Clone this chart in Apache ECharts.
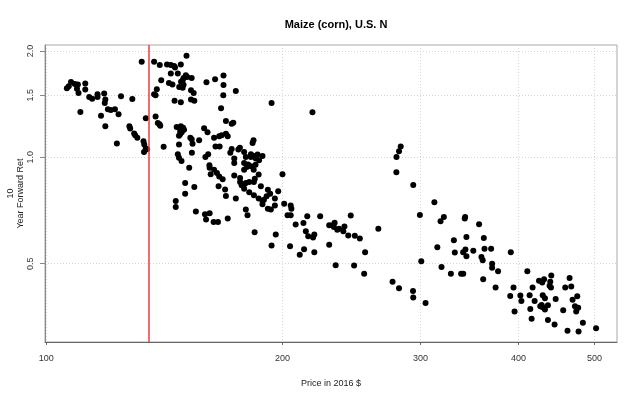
<!DOCTYPE html>
<html>
<head>
<meta charset="utf-8">
<script src="https://cdn.jsdelivr.net/npm/echarts@6/dist/echarts.min.js"></script>
<style>
html,body{margin:0;padding:0;background:#fff}
#chart{width:640px;height:398px}
</style>
</head>
<body>
<div id="chart"></div>
<script>
// price (2016 $) and 10 year forward return, cluster by cluster
var price = [
    // left of the line
    106.2,106.8,107.5,108.7,109.7,109.4,109.9,112.1,112.1,113.4,114.4,116.2,116.2,118.5,118.9,118.7,119.8,120.8,122.3,123.6,
    124.5,128.7,110.5,117.4,118.9,127.6,127.9,129.4,129.8,130.6,133.0,133.3,133.9,134.4,133.2,123.0,132.3,133.9,
    // main cluster top
    137.2,139.5,142.5,144.1,145.5,145.9,148.4,150.9,144.1,147.1,150.6,151.2,149.6,149.2,148.5,153.2,140.1,143.3,144.8,147.7,
    149.2,149.6,152.9,154.1,138.3,137.2,137.8,145.7,148.4,152.9,154.4,137.8,138.7,139.4,139.7,146.6,148.4,149.4,148.1,148.8,
    148.1,147.6,149.8,152.6,153.2,153.6,156.6,147.6,141.1,153.3,147.1,147.6,148.7,152.1,
    // top right of main cluster
    160.0,164.1,168.2,168.2,174.4,168.1,167.0,193.7,218.4,
    // middle
    158.9,160.5,169.4,172.3,173.1,163.6,166.1,167.3,169.4,170.3,164.3,166.3,172.3,171.6,175.7,176.5,178.7,183.7,183.2,159.5,
    160.8,173.6,173.6,179.6,182.3,183.9,182.3,185.9,188.6,184.9,186.7,178.7,180.8,180.1,182.3,184.8,183.8,178.7,161.4,161.5,
    163.6,
    // lower middle
    165.0,166.1,167.8,162.0,173.6,176.6,176.6,177.4,178.7,179.6,181.4,183.9,184.4,186.5,200.0,150.3,154.4,150.3,165.8,169.0,
    169.4,178.7,181.4,183.9,186.5,188.6,188.6,191.6,193.3,195.6,187.7,191.6,192.9,190.9,189.4,197.5,195.6,201.0,204.9,205.3,
    174.4,179.6,180.5,203.0,204.9,215.1,146.2,146.2,155.1,159.3,161.5,159.8,163.4,165.5,170.3,184.3,196.1,193.7,204.5,
    // right middle
    207.9,210.4,212.7,214.2,215.7,213.1,218.8,219.6,219.6,223.4,229.4,231.5,233.1,232.6,229.4,234.9,236.1,239.1,239.9,242.6,
    247.3,251.0,244.4,233.8,246.8,254.9,265.0,254.2,276.3,281.6,293.4,293.6,304.4,279.4,279.5,281.6,283.0,293.6,299.4,300.6,
    312.4,318.1,321.2,315.1,319.0,
    // right cluster
    327.9,330.8,331.7,337.9,340.0,339.9,342.2,343.2,341.5,341.9,343.2,350.2,356.2,358.7,360.0,361.2,361.9,360.5,369.0,370.1,
    370.1,373.9,376.6,391.0,390.3,394.1,395.3,402.1,403.3,410.4,413.2,414.0,415.6,416.8,419.3,424.7,428.8,431.1,426.3,428.0,
    429.4,432.2,429.4,432.2,436.0,436.0,439.0,439.9,440.3,438.1,444.6,446.0,456.0,458.7,461.8,464.6,466.9,468.7,472.0,473.7,
    476.5,475.2,477.0,483.1,502.2
];
var fwdRet = [
    1.568,1.589,1.634,1.613,1.609,1.565,1.521,1.617,1.555,1.482,1.466,1.508,1.481,1.515,1.457,1.425,1.368,1.362,1.368,1.324,
    1.488,1.462,1.344,1.312,1.224,1.224,1.206,1.169,1.154,1.137,1.110,1.088,1.059,1.054,1.035,1.095,1.866,1.290,
    1.866,1.826,1.831,1.826,1.815,1.795,1.831,1.940,1.726,1.726,1.709,1.688,1.677,1.652,1.638,1.677,1.652,1.623,1.609,1.581,
    1.575,1.606,1.548,1.521,1.558,1.508,1.498,1.447,1.431,1.457,1.447,1.306,1.251,1.240,1.229,1.218,1.224,1.213,1.187,1.177,
    1.162,1.152,1.197,1.137,1.125,1.093,1.117,1.088,1.072,1.031,1.020,0.998,0.977,0.935,
    1.631,1.663,1.704,1.602,1.541,1.498,1.377,1.425,1.341,
    1.209,1.177,1.267,1.245,1.253,1.137,1.147,1.154,1.167,1.147,1.074,1.074,1.055,1.031,1.053,1.065,1.035,1.117,1.098,1.002,
    1.020,0.992,0.963,1.002,1.002,1.008,1.020,1.018,1.008,0.992,0.981,0.963,0.955,0.939,0.943,0.953,0.922,0.922,0.949,0.935,
    0.922,
    0.903,0.883,0.867,0.895,0.889,0.874,0.852,0.833,0.839,0.846,0.851,0.851,0.870,0.894,0.895,0.846,0.824,0.789,0.828,0.811,
    0.777,0.815,0.797,0.781,0.764,0.752,0.736,0.715,0.712,0.731,0.828,0.810,0.789,0.776,0.759,0.801,0.764,0.739,0.731,0.715,
    0.764,0.712,0.685,0.685,0.685,0.681,0.752,0.723,0.703,0.690,0.695,0.667,0.656,0.656,0.671,0.614,0.605,0.563,0.560,
    0.645,0.530,0.652,0.618,0.598,0.549,0.593,0.605,0.539,0.681,0.642,0.642,0.653,0.635,0.566,0.624,0.628,0.618,0.637,0.601,
    0.600,0.589,0.684,0.495,0.494,0.539,0.628,0.468,0.444,0.426,0.418,0.401,0.387,0.907,1.002,1.040,1.074,0.835,0.687,0.508,
    0.746,0.659,0.678,0.556,0.489,
    0.468,0.582,0.538,0.468,0.468,0.539,0.548,0.525,0.671,0.678,0.595,0.544,0.646,0.522,0.511,0.591,0.551,0.452,0.551,0.500,
    0.487,0.428,0.476,0.539,0.405,0.428,0.366,0.406,0.392,0.476,0.407,0.372,0.349,0.428,0.392,0.447,0.442,0.452,0.379,0.382,
    0.376,0.371,0.407,0.399,0.381,0.346,0.444,0.428,0.463,0.433,0.336,0.397,0.369,0.428,0.323,0.455,0.431,0.395,0.379,0.366,
    0.375,0.404,0.321,0.340,0.328
];
var xTicks = [100, 200, 300, 400, 500];
var yTicks = [0.5, 1.0, 1.5, 2.0];
var cutoff = 135;   // red line

function showScatter(eid) {
    var contener = document.getElementById(eid);
    var pts = [];
    for (var i = 0; i < price.length; i++) {
        pts.push([price[i], fwdRet[i]]);
    }
    var font = 'Liberation Sans, Arial, Helvetica, sans-serif';
    var myChart = echarts.init(contener, null, {width: 640, height: 398});
    var option = {
        animation: false,
        backgroundColor: '#fff',
        title: {
            text: 'Maize (corn), U.S. N',
            left: 331,
            top: 14,
            textAlign: 'center',
            textStyle: {fontFamily: font, fontSize: 11, fontWeight: 'bold', color: '#000'}
        },
        grid: {
            left: 45, right: 23, top: 45, bottom: 56,
            outerBoundsMode: 'none',
            containLabel: false,
            show: true, borderColor: '#a8a8a8', borderWidth: 1
        },
        xAxis: {
            type: 'log',
            logBase: 10,
            min: 99.6,
            max: 534,
            name: 'Price in 2016 $',
            nameLocation: 'middle',
            nameGap: 37,
            nameMoveOverlap: false,
            nameTextStyle: {fontFamily: font, fontSize: 9, color: '#222'},
            axisLine: {show: true, lineStyle: {color: '#666', width: 1}},
            axisTick: {show: true, customValues: xTicks, length: 3, lineStyle: {color: '#666'}},
            axisLabel: {
                customValues: xTicks, margin: 12,
                fontFamily: font, fontSize: 9, color: '#333',
                formatter: function (v) { return String(Math.round(v)); }
            },
            splitLine: {show: true, lineStyle: {color: '#d6d6d6', type: [1, 2], width: 1}}
        },
        yAxis: {
            type: 'log',
            logBase: 10,
            min: 0.30,
            max: 2.08,
            name: '10\nYear Forward Ret',
            nameLocation: 'middle',
            nameRotate: 90,
            nameGap: 19,
            nameMoveOverlap: false,
            nameTextStyle: {fontFamily: font, fontSize: 9, color: '#222', lineHeight: 10, align: 'center'},
            axisLine: {show: true, lineStyle: {color: '#888', width: 1}},
            axisTick: {show: true, customValues: yTicks, length: 5, lineStyle: {color: '#888'}},
            axisLabel: {
                customValues: yTicks, rotate: 90, margin: 10,
                fontFamily: font, fontSize: 9, color: '#333',
                formatter: function (v) { return Number(v).toFixed(1); }
            },
            splitLine: {show: true, lineStyle: {color: '#d6d6d6', type: [1, 2], width: 1}}
        },
        series: [
            {
                type: 'scatter',
                data: pts,
                symbol: 'circle',
                symbolSize: 6,
                itemStyle: {color: '#000', opacity: 1},
                markLine: {
                    silent: true,
                    symbol: ['none', 'none'],
                    label: {show: false},
                    lineStyle: {color: '#f03c3c', width: 1.5, type: 'solid', opacity: 1},
                    data: [{xAxis: cutoff}]
                }
            }
        ]
    };
    myChart.setOption(option);
}
showScatter('chart');
</script>
</body>
</html>
